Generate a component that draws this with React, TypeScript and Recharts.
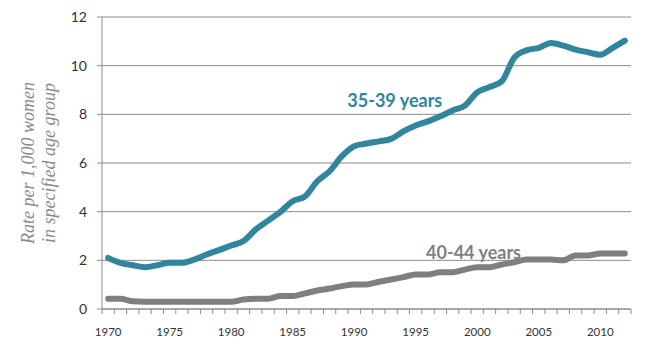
import React from "react";
import {
  LineChart,
  Line,
  XAxis,
  YAxis,
  CartesianGrid,
  ReferenceDot,
} from "recharts";

const years = [
  1970, 1971, 1972, 1973, 1974, 1975, 1976, 1977, 1978, 1979,
  1980, 1981, 1982, 1983, 1984, 1985, 1986, 1987, 1988, 1989,
  1990, 1991, 1992, 1993, 1994, 1995, 1996, 1997, 1998, 1999,
  2000, 2001, 2002, 2003, 2004, 2005, 2006, 2007, 2008, 2009,
  2010, 2011, 2012,
];

const rate3539 = [
  2.1, 1.9, 1.8, 1.72, 1.8, 1.9, 1.9, 2.03, 2.24, 2.42,
  2.61, 2.79, 3.27, 3.63, 3.99, 4.43, 4.63, 5.25, 5.66, 6.28,
  6.69, 6.8, 6.89, 6.99, 7.3, 7.54, 7.71, 7.92, 8.16, 8.36,
  8.9, 9.12, 9.36, 10.32, 10.63, 10.73, 10.93, 10.82, 10.66, 10.55,
  10.45, 10.73, 11.03,
];

const rate4044 = [
  0.42, 0.42, 0.32, 0.3, 0.3, 0.3, 0.3, 0.3, 0.3, 0.3,
  0.3, 0.39, 0.42, 0.42, 0.53, 0.53, 0.64, 0.76, 0.84, 0.94,
  1.01, 1.01, 1.12, 1.21, 1.31, 1.42, 1.42, 1.51, 1.51, 1.62,
  1.72, 1.72, 1.83, 1.92, 2.03, 2.03, 2.03, 2.0, 2.2, 2.2,
  2.28, 2.28, 2.28,
];

const yTicks = [0, 2, 4, 6, 8, 10, 12];
const yearLabels = [1970, 1975, 1980, 1985, 1990, 1995, 2000, 2005, 2010];

const data = years.map((year, i) => ({
  year,
  a: rate3539[i],
  b: rate4044[i],
}));

// tick marks sit between the years (Excel style), labels sit on the years
const boundaryTicks = [...years.map((y) => y - 0.5), years[years.length - 1] + 0.5];
const xTicks = [...boundaryTicks, ...yearLabels].sort((p, q) => p - q);

const TEAL = "#31859C";
const GREY = "#7F7F7F";
const AXIS = "#8C8C8C";
const FONT = "Lato, 'Open Sans', sans-serif";

function YearTick(props: any) {
  const { x, y, payload } = props;
  const v = payload.value as number;
  if (v % 1 !== 0) {
    return <line x1={x} y1={y} x2={x} y2={y + 5} stroke={AXIS} strokeWidth={1} />;
  }
  return (
    <text x={x} y={y + 27} textAnchor="middle" fontSize={11.5} fontFamily={FONT} fill="#333">
      {v}
    </text>
  );
}

function AxisTitle(props: any) {
  const vb = props.viewBox || { x: 0, y: 17, width: 102, height: 292 };
  const cx = vb.x + 33.5;
  const cy = vb.y + vb.height / 2;
  return (
    <text
      transform={`translate(${cx}, ${cy}) rotate(-90)`}
      textAnchor="middle"
      fontFamily="'Liberation Serif', serif"
      fontStyle="italic"
      fontSize={18}
      fill="#8A8A8A"
    >
      <tspan x={0} dy={0}>Rate per 1,000 women</tspan>
      <tspan x={0} dy={21.5}>in specified age group</tspan>
    </text>
  );
}

export default function App() {
  return (
    <div style={{ position: "absolute", left: 0, top: 0, background: "#fff" }}>
      <LineChart
        width={646}
        height={354}
        data={data}
        margin={{ top: 17, right: 15, left: 0, bottom: 15 }}
      >
        <CartesianGrid vertical={false} stroke={AXIS} strokeWidth={1} />
        <XAxis
          dataKey="year"
          type="number"
          domain={[1969.5, 2012.5]}
          ticks={xTicks}
          interval={0}
          tick={<YearTick />}
          tickLine={false}
          tickSize={0}
          tickMargin={0}
          height={30}
          axisLine={{ stroke: AXIS }}
        />
        <YAxis
          type="number"
          domain={[0, 12]}
          ticks={yTicks}
          width={102}
          tickSize={5}
          tickMargin={10}
          tickLine={{ stroke: AXIS }}
          axisLine={{ stroke: AXIS }}
          tick={{ fontSize: 14, fill: "#333", fontFamily: FONT }}
          label={(p: any) => <AxisTitle {...p} />}
        />
        <Line
          type="monotone"
          dataKey="a"
          stroke={TEAL}
          strokeWidth={6}
          strokeLinecap="round"
          dot={false}
          isAnimationActive={false}
        />
        <Line
          type="monotone"
          dataKey="b"
          stroke={GREY}
          strokeWidth={6}
          strokeLinecap="round"
          dot={false}
          isAnimationActive={false}
        />
        <ReferenceDot
          x={1993.3}
          y={8.58}
          r={0}
          fillOpacity={0}
          strokeOpacity={0}
          label={{
            value: "35-39 years",
            position: "center",
            fill: TEAL,
            fontSize: 18,
            fontWeight: 700,
            fontFamily: FONT,
          }}
        />
        <ReferenceDot
          x={1999.7}
          y={2.32}
          r={0}
          fillOpacity={0}
          strokeOpacity={0}
          label={{
            value: "40-44 years",
            position: "center",
            fill: GREY,
            fontSize: 18,
            fontWeight: 700,
            fontFamily: FONT,
          }}
        />
      </LineChart>
    </div>
  );
}
